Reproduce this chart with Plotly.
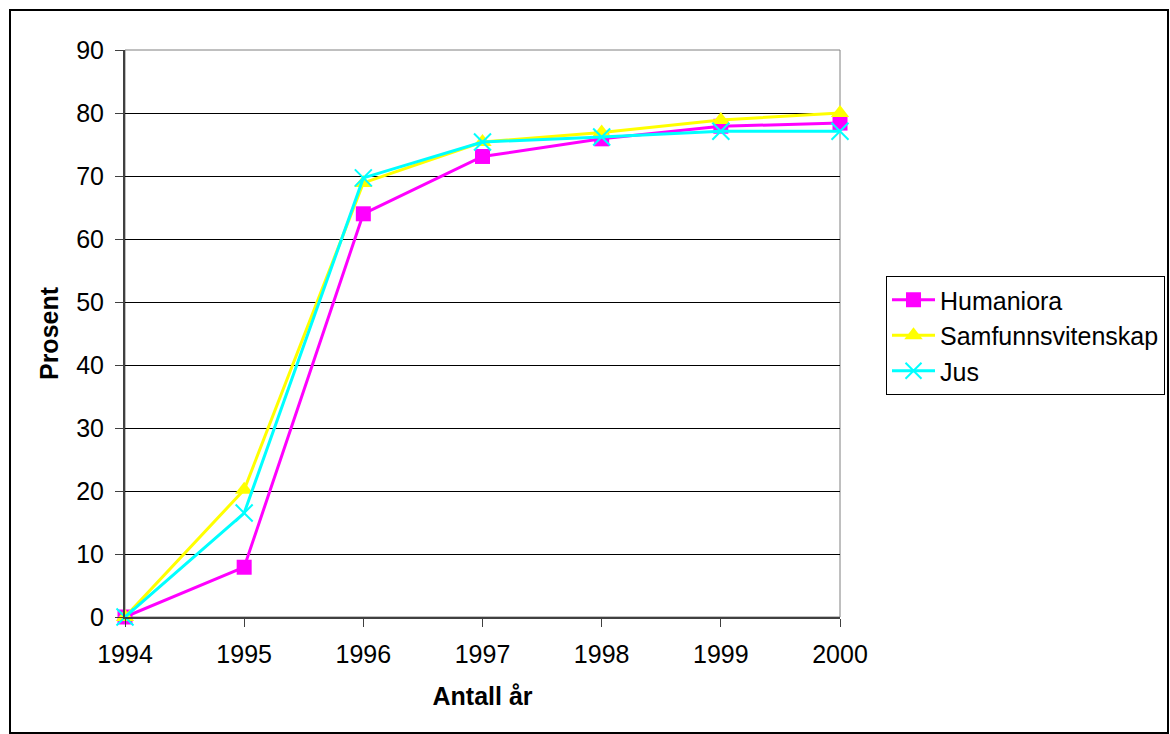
import plotly.graph_objects as go

years = [1994, 1995, 1996, 1997, 1998, 1999, 2000]
humaniora = [0, 7.9, 64.0, 73.1, 75.9, 77.9, 78.4]
samfunn = [0, 20.2, 68.9, 75.4, 76.9, 78.9, 80.0]
jus = [0, 16.5, 69.7, 75.4, 76.2, 77.1, 77.1]
y_ticks = [0, 10, 20, 30, 40, 50, 60, 70, 80, 90]

FONT = "Liberation Sans, Arial, sans-serif"
FS = 25

fig = go.Figure()
fig.add_trace(go.Scatter(x=years, y=humaniora, name="Humaniora", mode="lines+markers",
                         cliponaxis=False,
                         line=dict(color="#FF00FF", width=3),
                         marker=dict(symbol="square", size=15, color="#FF00FF")))
fig.add_trace(go.Scatter(x=years, y=samfunn, name="Samfunnsvitenskap", mode="lines+markers",
                         cliponaxis=False,
                         line=dict(color="#FFFF00", width=3),
                         marker=dict(symbol="triangle-up", size=16, color="#FFFF00")))
fig.add_trace(go.Scatter(x=years, y=jus, name="Jus", mode="lines+markers",
                         cliponaxis=False,
                         line=dict(color="#00FFFF", width=3),
                         marker=dict(symbol="x-thin-open", size=17, color="#00FFFF",
                                     line=dict(color="#00FFFF", width=2))))

fig.update_layout(
    width=1170, height=734,
    margin=dict(l=125, r=330, t=50, b=117, autoexpand=False),
    paper_bgcolor="white", plot_bgcolor="white",
    font=dict(family=FONT, size=FS, color="black"),
    showlegend=True,
    legend=dict(xref="container", yref="container",
                x=886 / 1170, y=(734 - 276) / 734, xanchor="left", yanchor="top",
                bordercolor="black", borderwidth=1, bgcolor="white",
                font=dict(family=FONT, size=FS, color="black"),
                itemwidth=43, tracegroupgap=0),
    xaxis=dict(range=[1994, 2000], tickmode="array", tickvals=years,
               ticktext=[str(y) for y in years], showgrid=False, zeroline=False,
               showline=True, linecolor="#404040", linewidth=2,
               ticks="outside", ticklen=8, tickcolor="#404040", tickwidth=1,
               ticklabelstandoff=6,
               title=dict(text="<b>Antall år</b>", font=dict(size=FS), standoff=20)),
    yaxis=dict(range=[0, 90], tickmode="array", tickvals=y_ticks,
               showgrid=True, gridcolor="black", gridwidth=1, zeroline=False,
               showline=True, linecolor="#404040", linewidth=2,
               ticks="outside", ticklen=8, tickcolor="#404040", tickwidth=1,
               ticklabelstandoff=6,
               title=dict(text="<b>Prosent</b>", font=dict(size=FS), standoff=10)),
)

# plot area border (gray)
fig.add_shape(type="rect", xref="paper", yref="paper", x0=0, x1=1, y0=0, y1=1,
              line=dict(color="#808080", width=1), layer="below")
# outer chart border
fig.add_shape(type="rect", xref="paper", yref="paper",
              x0=(10 - 125) / 715, x1=(1168 - 125) / 715,
              y0=(617 - 733) / 567, y1=(617 - 10) / 567,
              line=dict(color="black", width=2))

fig.write_html("out.html")
